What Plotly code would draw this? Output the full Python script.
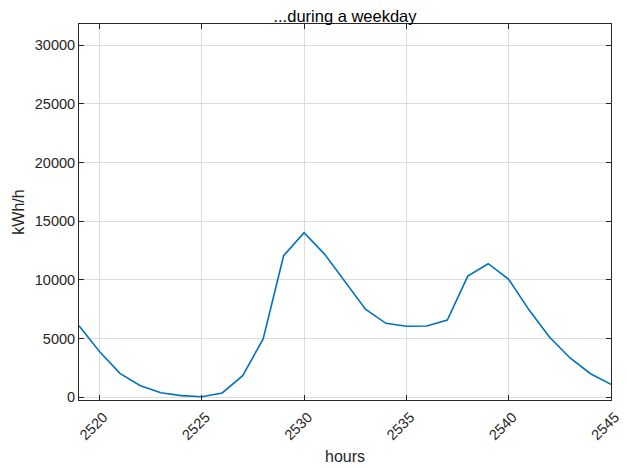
import plotly.graph_objects as go

hours = list(range(2519, 2546))
load_kwh = [6100, 3900, 2040, 990, 390, 140, 50, 370, 1840, 4970, 12060, 14020,
            12200, 9850, 7500, 6300, 6050, 6070, 6580, 10330, 11380, 10050,
            7430, 5110, 3350, 2010, 1100]
x_ticks = [2520, 2525, 2530, 2535, 2540, 2545]
y_ticks = [0, 5000, 10000, 15000, 20000, 25000, 30000]

axis_col = "#262626"
grid_col = "#dcdcdc"
font_fam = "Liberation Sans, Arial, Helvetica, sans-serif"

fig = go.Figure()
fig.add_trace(go.Scatter(x=hours, y=load_kwh, mode="lines",
                         line=dict(color="#0072BD", width=1.6),
                         showlegend=False))

# page body has an 8px default margin, so margins are offset by 8px
fig.update_layout(
    width=627, height=468,
    margin=dict(l=71, r=24, t=16, b=76, autoexpand=False),
    paper_bgcolor="white", plot_bgcolor="white",
    font=dict(family=font_fam, color=axis_col, size=14),
    title=dict(text="...during a weekday", x=0.5, xref="paper", xanchor="center",
               y=1, yref="paper", yanchor="bottom", pad=dict(b=2),
               font=dict(size=16.5, color="black")),
)
fig.update_xaxes(
    range=[2519, 2545], tickvals=x_ticks, ticktext=[str(v) for v in x_ticks],
    tickangle=-45, ticks="inside", ticklen=5, tickcolor=axis_col,
    ticklabelshift=4, ticklabelstandoff=2, ticklabeloverflow="allow",
    showline=True, linecolor=axis_col, linewidth=1, mirror="allticks",
    showgrid=True, gridcolor=grid_col, gridwidth=1, zeroline=False,
    tickfont=dict(size=14.5, color=axis_col), automargin=False,
    title=dict(text="hours", font=dict(size=16, color=axis_col), standoff=8),
)
fig.update_yaxes(
    range=[-230, 31800], tickvals=y_ticks, ticktext=[str(v) for v in y_ticks],
    ticks="inside", ticklen=5, tickcolor=axis_col,
    showline=True, linecolor=axis_col, linewidth=1, mirror="allticks",
    showgrid=True, gridcolor=grid_col, gridwidth=1, zeroline=False,
    tickfont=dict(size=14.5, color=axis_col), automargin=False,
    title=dict(text="kWh/h", font=dict(size=16, color=axis_col), standoff=6),
)

fig.write_html("out.html")
